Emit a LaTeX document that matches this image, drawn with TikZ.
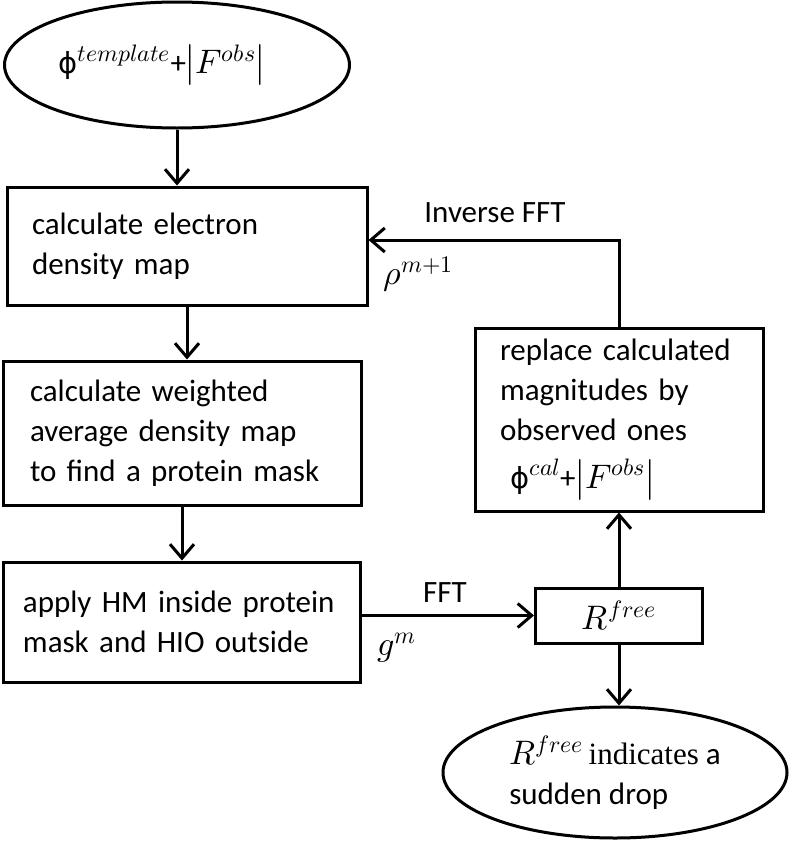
\documentclass[tikz,border=0pt]{standalone}
\usepackage{fontspec}
\usepackage{unicode-math}
\setmainfont{Carlito}
\setmathfont{Latin Modern Math}
\newfontfamily\serifface{Liberation Serif}
\newfontfamily\phiface{DejaVu Sans}
\usetikzlibrary{arrows.meta,shapes.geometric}
\newcommand{\formula}[1]{{\fontsize{34}{40}\selectfont$#1$}}
\newcommand{\phiup}{{\phiface\fontsize{29}{40}\selectfont ϕ}}
\tikzset{
	flowbox/.style={draw, line width=3pt, rectangle, align=left, inner xsep=25pt, inner ysep=0pt},
	flowoval/.style={draw, line width=3pt, ellipse, inner sep=0pt, align=left},
	flowarrow/.style={line width=3pt, -{Straight Barb[length=14pt,width=24pt]}},
	flowlabel/.style={inner sep=0pt}
}

\begin{document}
\begin{tikzpicture}[x=1pt, y=-1pt, font=\fontsize{31}{40}\selectfont]
			%%%%% START %%%%%
			\useasboundingbox (0, 0) rectangle (790, 841);
			
			\node[flowoval, minimum width=345pt, minimum height=126pt] (start) at (177, 65) {\phiup\formula{^{template}}+\formula{\left|F^{obs}\right|}\kern30pt};
			
			\node[flowbox, text width=310pt, minimum height=118pt] (dens) at (187, 246) {calculate electron\\density map};
			\node[flowbox, inner xsep=27pt, text width=304pt, minimum height=144pt] (wavg) at (182, 433) {calculate weighted\\average density map\\to find a protein mask};
			\node[flowbox, inner xsep=20pt, text width=317pt, minimum height=120pt] (hmhio) at (181.5, 622) {apply HM inside protein\\mask and HIO outside};
			
			\node[flowbox, text width=238pt, minimum height=183pt] (repl) at (619, 419.5) {replace calculated\\magnitudes by\\observed ones\\[8pt]\hspace*{10pt}\phiup\formula{^{cal}}+\formula{\left|F^{obs}\right|}};
			\node[flowbox, inner xsep=0pt, minimum width=167pt, minimum height=55pt, align=center] (rfree) at (619, 615.5) {\formula{R^{free}}};
			
			\node[flowoval, minimum width=344pt, minimum height=131pt] (stop) at (615, 772.5) {\formula{R^{free}}\,{\serifface indicates} a\\sudden drop};
			
			\coordinate (turn) at (619, 240);
			
			\draw[flowarrow] (start.south) -- (start.south |- dens.north);
			\draw[flowarrow] (dens.south) -- (dens.south |- wavg.north);
			\draw[flowarrow] (wavg.south) -- (wavg.south |- hmhio.north);
			\draw[flowarrow] (rfree.west -| hmhio.east) -- (rfree.west);
			\draw[flowarrow] (rfree.north) -- (repl.south);
			\draw[flowarrow] (repl.north) -- (turn) -- (turn -| dens.east);
			\draw[flowarrow] (rfree.south) -- (rfree.south |- stop.north);
			
			\node[flowlabel] (ifft) at (495, 213) {Inverse FFT};
			\node[flowlabel] (rho) at (418, 274) {\formula{\rho^{m+1}}};
			\node[flowlabel] (fft) at (445, 593) {FFT};
			\node[flowlabel] (gm) at (397, 648) {\formula{g^{m}}};
			
			%%%%% END %%%%%
\end{tikzpicture}
\end{document}
